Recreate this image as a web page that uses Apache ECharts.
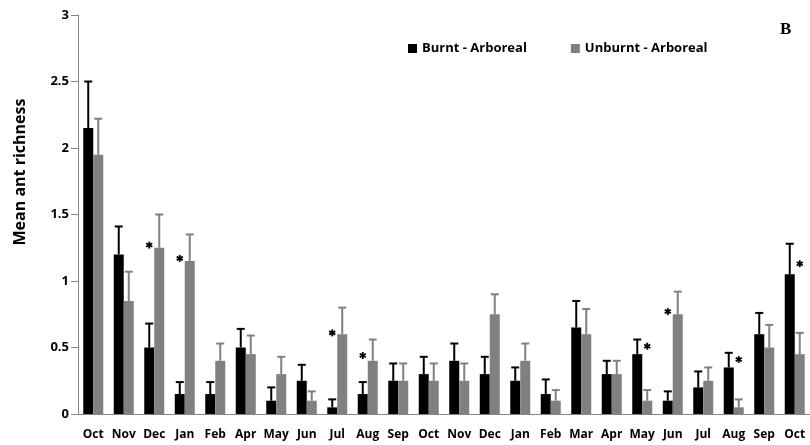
<!DOCTYPE html>
<html>
<head>
<meta charset="utf-8">
<script src="https://cdn.jsdelivr.net/npm/echarts@6/dist/echarts.min.js"></script>
<style>
  html, body { margin: 0; padding: 0; background: #fff; }
  #chart { width: 810px; height: 445px; }
</style>
</head>
<body>
<div id="chart"></div>
<script>
// Sampling months (two consecutive years)
const months = ['Oct','Nov','Dec','Jan','Feb','Apr','May','Jun','Jul','Aug','Sep','Oct',
                'Nov','Dec','Jan','Feb','Mar','Apr','May','Jun','Jul','Aug','Sep','Oct'];

// Mean ant richness and upper error (mean + SE)
const burntMean   = [2.15,1.20,0.50,0.15,0.15,0.50,0.10,0.25,0.05,0.15,0.25,0.30,
                     0.40,0.30,0.25,0.15,0.65,0.30,0.45,0.10,0.20,0.35,0.60,1.05];
const burntUpper  = [2.50,1.41,0.68,0.24,0.24,0.64,0.20,0.37,0.11,0.24,0.38,0.43,
                     0.53,0.43,0.35,0.26,0.85,0.40,0.56,0.17,0.32,0.46,0.76,1.28];
const unburntMean  = [1.95,0.85,1.25,1.15,0.40,0.45,0.30,0.10,0.60,0.40,0.25,0.25,
                      0.25,0.75,0.40,0.10,0.60,0.30,0.10,0.75,0.25,0.05,0.50,0.45];
const unburntUpper = [2.22,1.07,1.50,1.35,0.53,0.59,0.43,0.17,0.80,0.56,0.38,0.38,
                      0.38,0.90,0.53,0.18,0.79,0.40,0.18,0.92,0.35,0.11,0.67,0.61];

// Significant differences: month index, side (0 = burnt slot, 1 = unburnt slot), height
const sigIndex  = [2, 3, 8, 9, 18, 19, 21, 23];
const sigSide   = [0, 0, 0, 0, 1, 0, 1, 1];
const sigHeight = [1.27, 1.17, 0.61, 0.44, 0.51, 0.77, 0.41, 1.13];

const BAR_W = 10;
const FONT = '"Open Sans"';

function errorSeries(mean, upper, color, side) {
  return {
    type: 'custom',
    z: 5,
    data: mean.map((m, i) => [i, m, upper[i]]),
    renderItem: function (params, api) {
      const base = api.coord([api.value(0), api.value(1)]);
      const top = api.coord([api.value(0), api.value(2)]);
      const x = base[0] + (side === 0 ? -BAR_W / 2 : BAR_W / 2);
      const style = { stroke: color, lineWidth: 2 };
      return {
        type: 'group',
        children: [
          { type: 'line', shape: { x1: x, y1: base[1], x2: x, y2: top[1] }, style: style },
          { type: 'line', shape: { x1: x - 4, y1: top[1], x2: x + 4, y2: top[1] }, style: style }
        ]
      };
    }
  };
}

const chart = echarts.init(document.getElementById('chart'));
chart.setOption({
  animation: false,
  backgroundColor: '#ffffff',
  grid: { left: 78, right: 0, top: 15, bottom: 31 },
  legend: {
    left: 403, top: 37,
    itemWidth: 9, itemHeight: 9, itemGap: 44,
    icon: 'rect',
    textStyle: { fontFamily: FONT, fontWeight: 'bold', fontSize: 13, color: '#000' },
    data: ['Burnt - Arboreal', 'Unburnt - Arboreal']
  },
  graphic: [
    {
      type: 'text', x: 20, y: 172, rotation: Math.PI / 2,
      style: { text: 'Mean ant richness', font: 'bold 16px ' + FONT, fill: '#000',
               textAlign: 'center', textVerticalAlign: 'middle' }
    },
    {
      type: 'text', x: 780, y: 21,
      style: { text: 'B', font: 'bold 17px "Liberation Serif"', fill: '#000' }
    }
  ],
  xAxis: {
    type: 'category',
    data: months,
    axisLine: { lineStyle: { color: '#868686', width: 1 } },
    axisTick: { length: 5, lineStyle: { color: '#868686' } },
    axisLabel: { interval: 0, margin: 15, color: '#000', fontFamily: FONT,
                 fontWeight: 'bold', fontSize: 12 }
  },
  yAxis: {
    type: 'value',
    min: 0, max: 3, interval: 0.5,
    splitLine: { show: false },
    axisLine: { show: true, lineStyle: { color: '#868686', width: 1 } },
    axisTick: { show: true, length: 7, lineStyle: { color: '#868686' } },
    axisLabel: { margin: 9, color: '#000', fontFamily: FONT, fontWeight: 'bold', fontSize: 13 }
  },
  series: [
    { name: 'Burnt - Arboreal', type: 'bar', data: burntMean, barWidth: BAR_W, barGap: '0%',
      itemStyle: { color: '#000000' } },
    { name: 'Unburnt - Arboreal', type: 'bar', data: unburntMean, barWidth: BAR_W,
      itemStyle: { color: '#808080' } },
    errorSeries(burntMean, burntUpper, '#000000', 0),
    errorSeries(unburntMean, unburntUpper, '#808080', 1),
    {
      type: 'custom',
      z: 6,
      data: sigIndex.map((c, i) => [c, sigHeight[i], sigSide[i]]),
      renderItem: function (params, api) {
        const p = api.coord([api.value(0), api.value(1)]);
        const x = p[0] + (api.value(2) === 0 ? -BAR_W / 2 : BAR_W / 2);
        const y = p[1];
        const r = 3.5;
        const st = { stroke: '#000', lineWidth: 1.8 };
        const lines = [];
        for (let k = 0; k < 3; k++) {
          const a = Math.PI / 2 + k * Math.PI / 3;
          lines.push({ type: 'line',
            shape: { x1: x - r * Math.cos(a), y1: y - r * Math.sin(a),
                     x2: x + r * Math.cos(a), y2: y + r * Math.sin(a) }, style: st });
        }
        return { type: 'group', children: lines };
      }
    }
  ]
});
</script>
</body>
</html>
